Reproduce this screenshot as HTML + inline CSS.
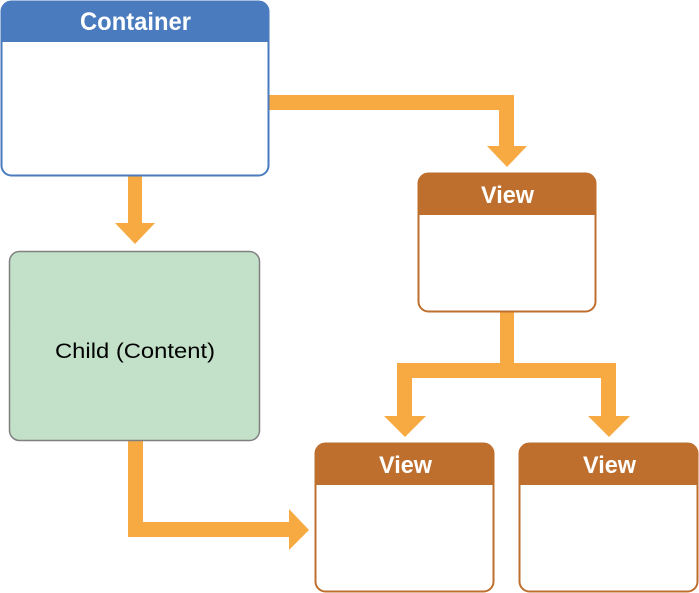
<!DOCTYPE html>
<html><head><style>html,body{margin:0;padding:0;background:#fff}svg{display:block}</style></head>
<body>
<svg width="699" height="593" viewBox="0 0 699 593" xmlns="http://www.w3.org/2000/svg" font-family="Liberation Sans, sans-serif">
<g fill="#f7aa42">
<rect x="128" y="176" width="14" height="48"/>
<polygon points="115,223 155,223 135,244"/>
<rect x="269" y="95" width="245" height="15"/>
<rect x="499" y="95" width="15" height="52"/>
<polygon points="487,146 527,146 507,167"/>
<rect x="500" y="312" width="14" height="53"/>
<rect x="397" y="363" width="219" height="15"/>
<rect x="397" y="363" width="15" height="54"/>
<polygon points="384,416 426,416 405,437"/>
<rect x="601" y="363" width="15" height="54"/>
<polygon points="588,416 630,416 609,437"/>
<rect x="128" y="441" width="15" height="96"/>
<rect x="128" y="522" width="162" height="15"/>
<polygon points="289,509 289,550 309,530"/>
</g>
<rect x="1.5" y="1.5" width="267" height="174" rx="10" fill="#fff" stroke="#4a7bbf" stroke-width="2"/>
<path d="M1.5 42 V11.5 A10 10 0 0 1 11.5 1.5 H258.5 A10 10 0 0 1 268.5 11.5 V42 Z" fill="#4a7bbf"/>
<text x="80" y="30" font-size="25" font-weight="bold" fill="#fff" textLength="111" lengthAdjust="spacingAndGlyphs">Container</text>
<rect x="9.5" y="251.5" width="250" height="189" rx="10" fill="#c3e1c8" stroke="#808080" stroke-width="1.5"/>
<text x="55" y="358" font-size="21" fill="#000" textLength="160" lengthAdjust="spacingAndGlyphs">Child (Content)</text>
<g>
<rect x="418.5" y="173.5" width="177" height="138" rx="10" fill="#fff" stroke="#be6f2e" stroke-width="2"/>
<path d="M418.5 215 V183.5 A10 10 0 0 1 428.5 173.5 H585.5 A10 10 0 0 1 595.5 183.5 V215 Z" fill="#be6f2e"/>
<text x="481" y="203" font-size="24" font-weight="bold" fill="#fff" textLength="53" lengthAdjust="spacingAndGlyphs">View</text>
</g>
<g>
<rect x="315.5" y="443.5" width="178" height="148" rx="10" fill="#fff" stroke="#be6f2e" stroke-width="2"/>
<path d="M315.5 485 V453.5 A10 10 0 0 1 325.5 443.5 H483.5 A10 10 0 0 1 493.5 453.5 V485 Z" fill="#be6f2e"/>
<text x="379" y="473" font-size="24" font-weight="bold" fill="#fff" textLength="53" lengthAdjust="spacingAndGlyphs">View</text>
</g>
<g>
<rect x="519.5" y="443.5" width="178" height="148" rx="10" fill="#fff" stroke="#be6f2e" stroke-width="2"/>
<path d="M519.5 485 V453.5 A10 10 0 0 1 529.5 443.5 H687.5 A10 10 0 0 1 697.5 453.5 V485 Z" fill="#be6f2e"/>
<text x="583" y="473" font-size="24" font-weight="bold" fill="#fff" textLength="53" lengthAdjust="spacingAndGlyphs">View</text>
</g>
</svg>
</body></html>
